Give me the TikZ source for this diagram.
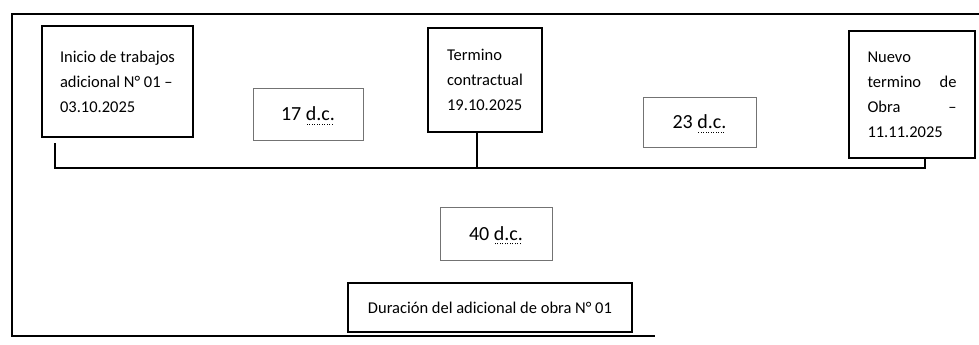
\documentclass[tikz,border=0pt]{standalone}
\usepackage{fontspec}
\setmainfont{Carlito}
\usepackage{tikz}

\newsavebox{\dcbox}
\newcommand{\dcu}{\sbox{\dcbox}{d.c.}%
    \rlap{\raisebox{-4pt}[0pt][0pt]{\hbox to \wd\dcbox{\leaders\hbox to 2.5pt{\hss\rule{1.1pt}{1.1pt}\hss}\hfill}}}%
    \usebox{\dcbox}}

\begin{document}
\begin{tikzpicture}[x=1pt, y=-1pt,
        hito/.style={draw, line width=1.2pt, align=left, inner sep=0pt,
            font=\fontsize{16.5}{25}\selectfont},
        plazo/.style={draw=black!55, line width=0.8pt, inner sep=0pt,
            font=\fontsize{20}{24}\selectfont},
        eje/.style={line width=2.4pt}]
            \useasboundingbox (0,0) rectangle (979,345);
            \draw[line width=1.2pt] (979,14) -- (12,14) -- (12,336) -- (655,336);
            \node[hito, minimum width=151pt, minimum height=111pt] (ini) at (117.5,81.5)
                {Inicio de trabajos\\adicional N° 01 –\\03.10.2025};
            \node[hito, minimum width=114pt, minimum height=104pt] (term) at (485,80)
                {Termino\\contractual\\19.10.2025};
            \node[hito, text width=89pt, minimum width=126pt, minimum height=127pt] (fin) at (912,94.5)
                {Nuevo\\termino\hfill de\\Obra\hfill –\\11.11.2025};
            \node[plazo, minimum width=110pt, minimum height=52pt] (d17) at (308,114) {17 \dcu};
            \node[plazo, minimum width=113pt, minimum height=50pt] (d23) at (699.5,122) {23 \dcu};
            \node[plazo, minimum width=112pt, minimum height=53pt] (d40) at (496,233.5) {40 \dcu};
            \node[hito, minimum width=284pt, minimum height=49pt] (dur) at (490,307.5)
                {Duración del adicional de obra N° 01};
            \coordinate (t0) at (55,143);
            \coordinate (t3) at (925,168);
            \draw[eje] (t0) |- (t3) -- (t3 |- fin.south);
            \draw[eje] ([xshift=-8pt]term.south) -- ([xshift=-8pt]term.south |- t3);
        \end{tikzpicture}
\end{document}
